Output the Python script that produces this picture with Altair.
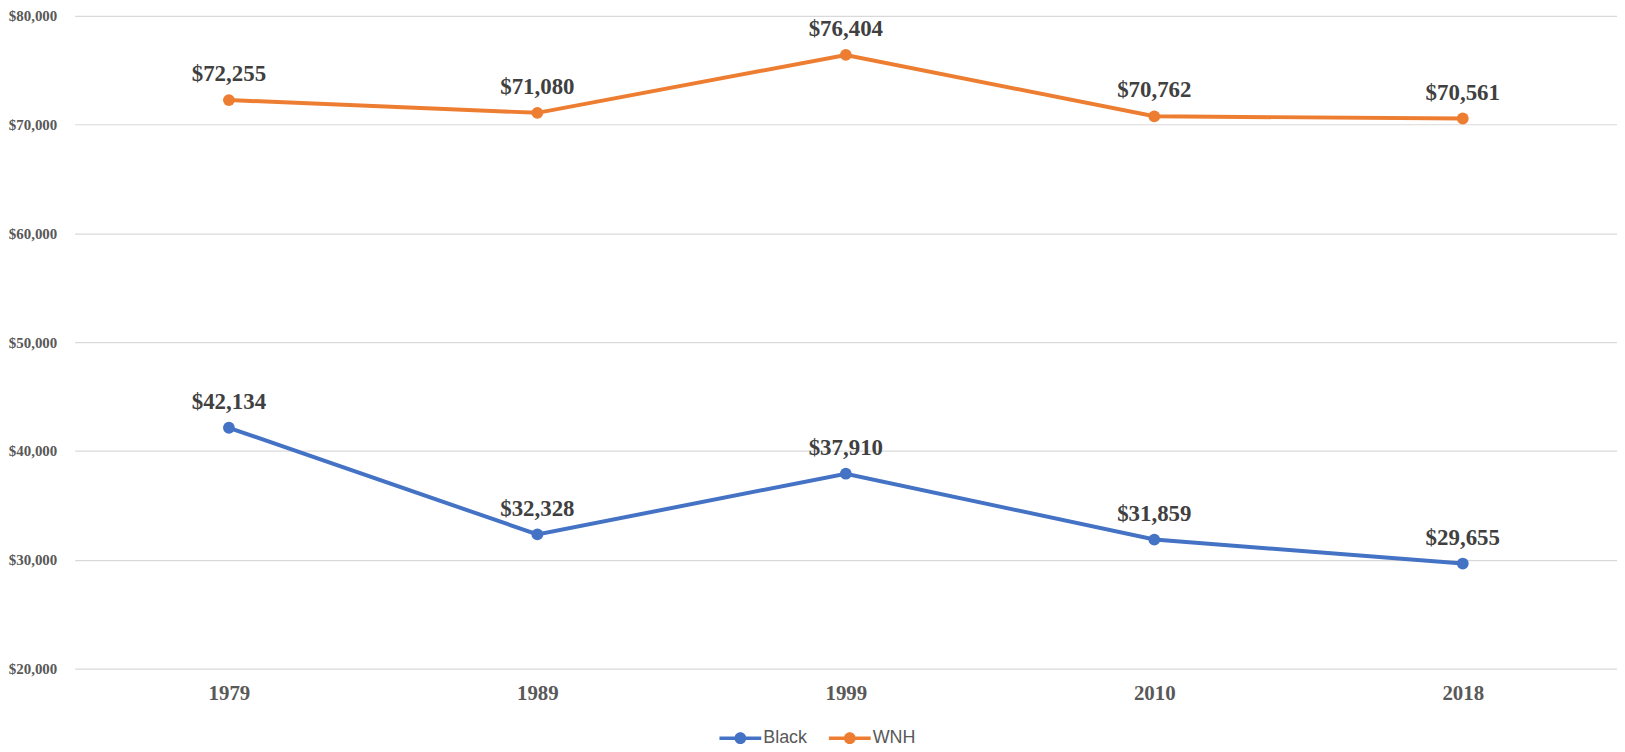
import altair as alt
import pandas as pd

years = ["1979", "1989", "1999", "2010", "2018"]
black = [42134, 32328, 37910, 31859, 29655]
wnh = [72255, 71080, 76404, 70762, 70561]
series = ["Black", "WNH"]
colors = ["#4472C4", "#ED7D31"]

rows = []
for y, v in zip(years, black):
    rows.append({"year": y, "value": v, "series": "Black"})
for y, v in zip(years, wnh):
    rows.append({"year": y, "value": v, "series": "WNH"})
df = pd.DataFrame(rows)

W, H = 1550, 656

x = alt.X("year:O", sort=years, title=None,
          scale=alt.Scale(type="point", padding=0.5),
          axis=alt.Axis(labelAngle=0, labelFont="Liberation Serif", labelFontSize=21,
                        labelFontWeight="bold", labelColor="#595959", ticks=False,
                        domain=False, labelPadding=14, grid=False))
y = alt.Y("value:Q", title=None,
          scale=alt.Scale(domain=[20000, 80000], nice=False, zero=False),
          axis=alt.Axis(values=[20000, 30000, 40000, 50000, 60000, 70000, 80000],
                        format="$,.0f", labelFont="Liberation Serif", labelFontSize=15,
                        labelFontWeight="bold", labelColor="#595959", ticks=False,
                        domain=False, labelPadding=18, gridColor="#D9D9D9",
                        gridWidth=1.2))

cscale = alt.Scale(domain=series, range=colors)

legend_path = ("M-1,-0.08L-0.25,-0.08L-0.25,0.08L-1,0.08Z"
               "M0.25,-0.08L1,-0.08L1,0.08L0.25,0.08Z"
               "M0.28,0A0.28,0.28 0 1 1 -0.28,0A0.28,0.28 0 1 1 0.28,0Z")

legend = alt.Legend(orient="none", legendX=648, legendY=705,
                    direction="horizontal", symbolType=legend_path,
                    symbolSize=1764, symbolStrokeWidth=0,
                    symbolOpacity=1,
                    labelFont="Liberation Sans", labelFontSize=18,
                    labelColor="#595959", labelOffset=2,
                    columnPadding=21, padding=0)

color = alt.Color("series:N", scale=cscale, title=None, legend=legend)

lines = alt.Chart(df).mark_line(strokeWidth=4).encode(
    x=x, y=y, color=color, detail="series:N",
)

points = alt.Chart(df).mark_circle(size=140, opacity=1).encode(
    x=x, y=y, color=color,
)

labels = alt.Chart(df).mark_text(font="Liberation Serif", fontSize=23, fontWeight="bold",
                                 color="#404040", dy=-19, baseline="alphabetic").encode(
    x=x, y=y,
    text=alt.Text("value:Q", format="$,.0f"),
)

chart = alt.layer(lines, points, labels).properties(
    width=W, height=H,
    autosize=alt.AutoSizeParams(type="none"),
    padding={"left": 67, "top": 6, "right": 0, "bottom": 80},
    background="white"
).configure_view(stroke=None)

chart.save("out.html", embed_options={"renderer": "svg", "actions": False})
